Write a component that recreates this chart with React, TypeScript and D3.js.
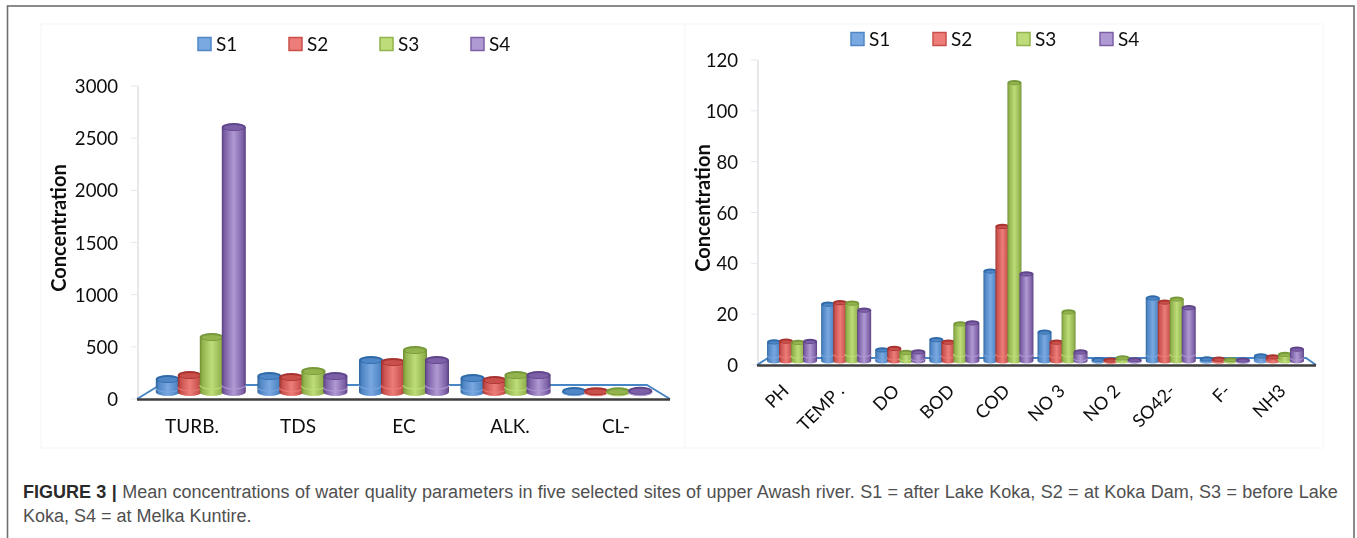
import React from "react";
import * as d3 from "d3";

const seriesNames = ["S1", "S2", "S3", "S4"];
const leftCats = ["TURB.", "TDS", "EC", "ALK.", "CL-"];
const leftS1 = [125, 153, 307, 134, 10];
const leftS2 = [163, 144, 288, 115, 8];
const leftS3 = [527, 201, 403, 163, 6];
const leftS4 = [2540, 153, 307, 163, 12];
const leftTicks = [0, 500, 1000, 1500, 2000, 2500, 3000];

const rightCats = ["PH", "TEMP .", "DO", "BOD", "COD", "NO 3", "NO 2", "SO42-", "F-", "NH3"];
const rightS1 = [7.5, 22.4, 4.4, 8.4, 35.4, 11.4, 0.6, 24.8, 0.8, 2];
const rightS2 = [7.8, 23, 5, 7.4, 53, 7.4, 0.4, 23.2, 0.7, 1.6];
const rightS3 = [7.3, 22.8, 3.4, 14.6, 109.5, 19.3, 1.2, 24.4, 0.5, 2.6];
const rightS4 = [7.7, 20, 3.6, 15, 34.3, 3.6, 0.5, 21, 0.4, 4.7];
const rightTicks = [0, 20, 40, 60, 80, 100, 120];

const edge = ["#2e6399", "#96312e", "#6f8f32", "#59407f"];
const mid = ["#7aa8e0", "#ec7d78", "#bedd7a", "#b09ad3"];
const side = ["#4f86c6", "#c9504c", "#93b34e", "#7c5fa6"];
const cap = ["#2f69a8", "#a8322f", "#76993a", "#5f4489"];

const captionLine1a = "FIGURE 3 | ";
const captionLine1b = "Mean concentrations of water quality parameters in five selected sites of upper Awash river. S1 = after Lake Koka, S2 = at Koka Dam, S3 = before Lake";
const captionLine2 = "Koka, S4 = at Melka Kuntire.";

type PanelProps = {
  cats: string[];
  rows: number[][];
  ticks: number[];
  yMax: number;
  y0: number;
  yTop: number;
  xRange: [number, number];
  labelRange: [number, number];
  depth: number;
  barW: number;
  barStep: number;
  ry: number;
  floor: { x0: number; x1: number; bx0: number; bx1: number; by: number };
  tickX: number;
  titleX: number;
  titleY: number;
  legendY: number;
  legendX: number[];
  rotate: boolean;
  labelY: number;
};

function Panel(p: PanelProps) {
  const y = d3.scaleLinear().domain([0, p.yMax]).range([p.y0, p.yTop]);
  const x = d3.scaleBand<string>().domain(p.cats).range(p.xRange);
  const lx = d3.scalePoint<string>().domain(p.cats).range(p.labelRange);
  const base = p.y0 - p.depth;
  return (
    <g>
      <line x1={p.floor.x0 + 1} x2={p.floor.x0 + 1} y1={p.yTop} y2={p.y0} stroke="#e6e6ea" strokeWidth={1.8} />
      {p.ticks.map((t) => (
        <g key={t}>
          <line x1={p.floor.x0 - 6} x2={p.floor.x0 + 1} y1={y(t)} y2={y(t)} stroke="#e9e9ed" />
          <text x={p.tickX} y={y(t) + 7} textAnchor="end" fontSize={18.6} fill="#111">{t}</text>
        </g>
      ))}
      <path
        d={`M${p.floor.x0},${p.y0} L${p.floor.bx0},${p.floor.by} L${p.floor.bx1},${p.floor.by} L${p.floor.x1},${p.y0}`}
        fill="none"
        stroke="#4a86c5"
        strokeWidth={2}
      />
      {p.cats.map((c, i) => {
        const cx = (x(c) as number) + x.bandwidth() / 2;
        return p.rows.map((row, s) => {
          const bx = cx + (s - 1.5) * p.barStep;
          const top = y(row[i]) - p.depth;
          const l = bx - p.barW / 2;
          const r = bx + p.barW / 2;
          const ry = p.ry;
          const band = Math.min(7, (base - top) * 0.3);
          return (
            <g key={`${c}-${s}`}>
              <path
                d={`M${l},${top} L${l},${base} A${p.barW / 2},${ry} 0 0 0 ${r},${base} L${r},${top} Z`}
                fill={`url(#grad${s})`}
              />
              <path
                d={`M${l},${base - band} A${p.barW / 2},${ry} 0 0 0 ${r},${base - band}`}
                fill="none"
                stroke={mid[s]}
                strokeWidth={1.2}
                opacity={0.8}
              />
              <ellipse cx={bx} cy={top} rx={p.barW / 2} ry={ry} fill={cap[s]} />
              <ellipse cx={bx} cy={top + 0.6} rx={p.barW / 2 - 2} ry={Math.max(ry - 1.4, 0.5)} fill={side[s]} />
            </g>
          );
        });
      })}
      <line x1={p.floor.x0} x2={p.floor.x1} y1={p.y0 + 0.5} y2={p.y0 + 0.5} stroke="#3e3e3e" strokeWidth={2.6} />
      {p.cats.map((c) => {
        const px = lx(c) as number;
        return p.rotate ? (
          <text key={c} transform={`translate(${px},${p.labelY}) rotate(-45)`} textAnchor="end" fontSize={18} fill="#111">{c}</text>
        ) : (
          <text key={c} x={px} y={p.labelY} textAnchor="middle" fontSize={19} fill="#111">{c}</text>
        );
      })}
      <text transform={`translate(${p.titleX},${p.titleY}) rotate(-90)`} textAnchor="middle" fontSize={20} fontWeight={700} fill="#111">Concentration</text>
      {seriesNames.map((n, s) => (
        <g key={n}>
          <rect x={p.legendX[s]} y={p.legendY - 6.5} width={13} height={13} fill={mid[s]} stroke={side[s]} strokeWidth={1.5} />
          <text x={p.legendX[s] + 18} y={p.legendY + 7} fontSize={19} fill="#111">{n}</text>
        </g>
      ))}
    </g>
  );
}

export default function App() {
  return (
    <svg
      width={1357}
      height={538}
      style={{ position: "absolute", left: 0, top: 0, background: "#fff", fontFamily: "Lato" }}
    >
      <defs>
        {seriesNames.map((n, s) => (
          <linearGradient key={n} id={`grad${s}`} x1="0" x2="1" y1="0" y2="0">
            <stop offset="0" stopColor={edge[s]} />
            <stop offset="0.12" stopColor={side[s]} />
            <stop offset="0.5" stopColor={mid[s]} />
            <stop offset="0.88" stopColor={side[s]} />
            <stop offset="1" stopColor={edge[s]} />
          </linearGradient>
        ))}
        <filter id="soft" x="-2%" y="-2%" width="104%" height="104%">
          <feGaussianBlur stdDeviation="0.55" />
        </filter>
      </defs>
      <rect x={7.5} y={6} width={1346.5} height={600} fill="none" stroke="#6f6f6f" strokeWidth={1.6} />
      <rect x={41} y={24} width={1282} height={424} fill="none" stroke="#f5f5f7" strokeWidth={1} />
      <line x1={685} x2={685} y1={24} y2={448} stroke="#f5f5f7" />
      <g filter="url(#soft)">
        <Panel
          cats={leftCats}
          rows={[leftS1, leftS2, leftS3, leftS4]}
          ticks={leftTicks}
          yMax={3000}
          y0={399}
          yTop={86}
          xRange={[150, 658]}
          labelRange={[192, 616]}
          depth={7}
          barW={24}
          barStep={22}
          ry={4}
          floor={{ x0: 137, x1: 670, bx0: 160, bx1: 647, by: 385 }}
          tickX={118}
          titleX={66}
          titleY={228}
          legendY={44}
          legendX={[198, 289, 380, 471]}
          rotate={false}
          labelY={433}
        />
        <Panel
          cats={rightCats}
          rows={[rightS1, rightS2, rightS3, rightS4]}
          ticks={rightTicks}
          yMax={120}
          y0={365}
          yTop={60}
          xRange={[765, 1306]}
          labelRange={[790, 1287]}
          depth={4}
          barW={14}
          barStep={12}
          ry={2.6}
          floor={{ x0: 757, x1: 1316, bx0: 768, bx1: 1306, by: 358 }}
          tickX={738}
          titleX={710}
          titleY={208}
          legendY={39}
          legendX={[851, 933, 1017, 1100]}
          rotate={true}
          labelY={392}
        />
      </g>
      <text x={23} y={498} fontFamily="Liberation Sans" fontSize={18} fill="#505050" wordSpacing={0.36}>
        <tspan fontWeight={700} fill="#2a2a2a">{captionLine1a}</tspan>
        {captionLine1b}
      </text>
      <text x={23} y={522} fontFamily="Liberation Sans" fontSize={18} fill="#505050">{captionLine2}</text>
    </svg>
  );
}
